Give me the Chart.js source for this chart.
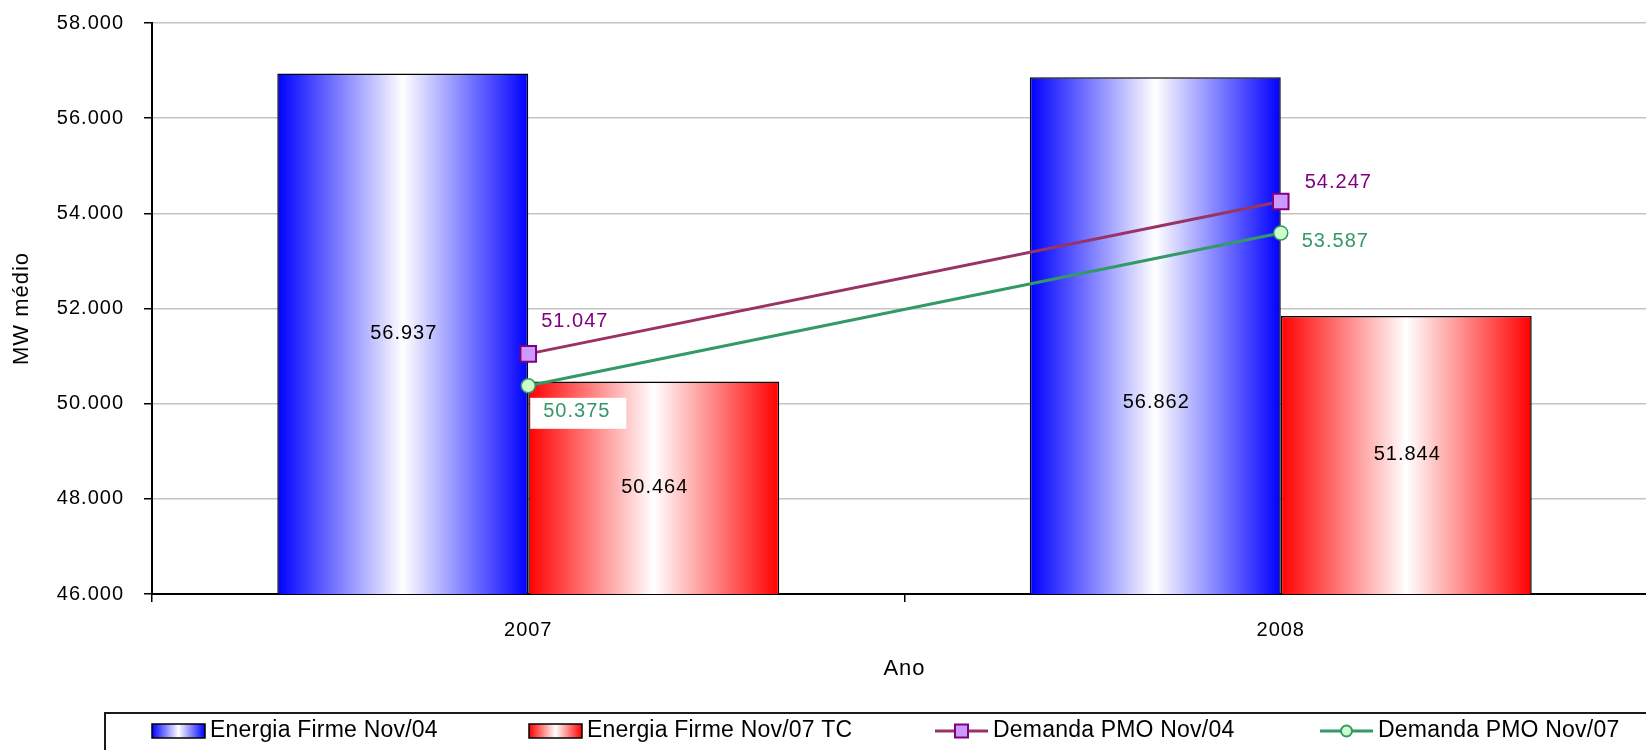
<!DOCTYPE html>
<html>
<head>
<meta charset="utf-8">
<script src="https://cdn.jsdelivr.net/npm/chart.js@4.4.1/dist/chart.umd.min.js"></script>
<style>
  html, body { margin: 0; padding: 0; background: #ffffff; overflow: hidden; }
  #wrap { width: 1646px; height: 750px; position: relative; overflow: hidden; }
  #chart { display: block; }
</style>
</head>
<body>
<div id="wrap"><canvas id="chart" width="1657" height="750"></canvas></div>
<script>
// ---- data ----
const years = ['2007', '2008'];
const energiaFirmeNov04 = [56937, 56862];
const energiaFirmeNov07TC = [50464, 51844];
const demandaPmoNov04 = [51047, 54247];
const demandaPmoNov07 = [50375, 53587];
const yMin = 46000;
const yMax = 58000;
const yStep = 2000;

const seriesNames = ['Energia Firme Nov/04', 'Energia Firme Nov/07 TC', 'Demanda PMO Nov/04', 'Demanda PMO Nov/07'];

// ---- styling ----
const FONT = "'Liberation Sans', Arial, sans-serif";
const SPACING = '1px';
const CAT_PCT = 0.667;
const barEdge = ['#0000FF', '#FF0000'];
const lineColor = ['#993366', '#339966'];
const pointFill = ['#CC99FF', '#CCFFCC'];
const pointEdge = ['#800080', '#339966'];
const valueColor = ['#800080', '#339966'];
// where the value sits inside each bar (fraction of the bar height from its top)
const barLabelAnchor = [[0.5, 0.63], [0.5, 0.5]];
// value label offsets from each line point [dx, dy]
const lineLabelOffset = [[[13, -32], [24, -19]], [[15, 26], [21, 8]]];
const lineLabelBoxed = [[false, false], [true, false]];

const fmt = v => String(Math.round(v)).replace(/\B(?=(\d{3})+(?!\d))/g, '.');

function barFill(ctx, slot) {
  const edge = barEdge[slot];
  const chart = ctx.chart;
  const xs = chart.scales && chart.scales.x;
  if (ctx.type !== 'data' || !xs || !xs.width) return edge;
  const catW = xs.width / years.length;
  const groupW = catW * CAT_PCT;
  const barW = groupW / 2;
  const left = xs.getPixelForValue(ctx.dataIndex) - groupW / 2 + slot * barW;
  const g = chart.ctx.createLinearGradient(left, 0, left + barW, 0);
  g.addColorStop(0, edge);
  g.addColorStop(0.5, '#FFFFFF');
  g.addColorStop(1, edge);
  return g;
}

const spacingPlugin = {
  id: 'spacing',
  beforeUpdate(chart) { chart.ctx.letterSpacing = SPACING; },
  beforeDraw(chart) { chart.ctx.letterSpacing = SPACING; }
};

const valueLabels = {
  id: 'valueLabels',
  afterDatasetsDraw(chart) {
    const ctx = chart.ctx;
    const ys = chart.scales.y;
    ctx.save();
    ctx.letterSpacing = SPACING;
    ctx.font = '20px ' + FONT;
    ctx.textBaseline = 'middle';
    // bar values
    [0, 1].forEach(di => {
      const meta = chart.getDatasetMeta(di);
      const vals = chart.data.datasets[di].data;
      meta.data.forEach((el, i) => {
        const top = ys.getPixelForValue(vals[i]);
        const base = ys.getPixelForValue(yMin);
        const y = top + (base - top) * barLabelAnchor[di][i];
        ctx.fillStyle = '#000000';
        ctx.textAlign = 'center';
        ctx.fillText(fmt(vals[i]), el.x + 1, y);
      });
    });
    // line values
    [2, 3].forEach((di, k) => {
      const meta = chart.getDatasetMeta(di);
      const vals = chart.data.datasets[di].data;
      meta.data.forEach((el, i) => {
        const py = ys.getPixelForValue(vals[i]);
        const [dx, dy] = lineLabelOffset[k][i];
        if (lineLabelBoxed[k][i]) {
          ctx.fillStyle = '#FFFFFF';
          ctx.fillRect(el.x + 2, py + dy - 14, 96, 31);
        }
        ctx.fillStyle = valueColor[k];
        ctx.textAlign = 'left';
        ctx.fillText(fmt(vals[i]), el.x + dx, py + dy);
      });
    });
    ctx.restore();
  }
};

const boxedLegend = {
  id: 'boxedLegend',
  afterDraw(chart) {
    const ctx = chart.ctx;
    const cy = 731;
    const items = [
      { x: 152, kind: 'bar', slot: 0 },
      { x: 529, kind: 'bar', slot: 1 },
      { x: 935, kind: 'line', slot: 0 },
      { x: 1320, kind: 'line', slot: 1 }
    ];
    ctx.save();
    ctx.strokeStyle = '#1a1a1a';
    ctx.lineWidth = 2;
    ctx.strokeRect(105, 713, 1700, 100);
    items.forEach((it, idx) => {
      const w = 53;
      if (it.kind === 'bar') {
        const g = ctx.createLinearGradient(it.x, 0, it.x + w, 0);
        g.addColorStop(0, barEdge[it.slot]);
        g.addColorStop(0.5, '#FFFFFF');
        g.addColorStop(1, barEdge[it.slot]);
        ctx.fillStyle = g;
        ctx.fillRect(it.x, cy - 7, w, 14);
        ctx.strokeStyle = '#000000';
        ctx.lineWidth = 1.5;
        ctx.strokeRect(it.x, cy - 7, w, 14);
      } else {
        ctx.strokeStyle = lineColor[it.slot];
        ctx.lineWidth = 3;
        ctx.beginPath();
        ctx.moveTo(it.x, cy);
        ctx.lineTo(it.x + w, cy);
        ctx.stroke();
        ctx.fillStyle = pointFill[it.slot];
        ctx.strokeStyle = pointEdge[it.slot];
        ctx.lineWidth = 2;
        const mx = it.x + w / 2;
        if (it.slot === 0) {
          ctx.fillRect(mx - 6.5, cy - 6.5, 13, 13);
          ctx.strokeRect(mx - 6.5, cy - 6.5, 13, 13);
        } else {
          ctx.beginPath();
          ctx.arc(mx, cy, 5.5, 0, Math.PI * 2);
          ctx.fill();
          ctx.stroke();
        }
      }
      ctx.fillStyle = '#000000';
      ctx.font = '23px ' + FONT;
      ctx.letterSpacing = '0.2px';
      ctx.textAlign = 'left';
      ctx.textBaseline = 'middle';
      ctx.fillText(chart.data.datasets[idx].label, it.x + w + 5, cy);
    });
    ctx.restore();
  }
};

new Chart(document.getElementById('chart'), {
  type: 'bar',
  data: {
    labels: years,
    datasets: [
      {
        type: 'bar', label: seriesNames[0], data: energiaFirmeNov04,
        backgroundColor: c => barFill(c, 0), borderColor: '#000000', borderWidth: 1.5, order: 2
      },
      {
        type: 'bar', label: seriesNames[1], data: energiaFirmeNov07TC,
        backgroundColor: c => barFill(c, 1), borderColor: '#000000', borderWidth: 1.5, order: 2
      },
      {
        type: 'line', label: seriesNames[2], data: demandaPmoNov04,
        borderColor: lineColor[0], borderWidth: 3, tension: 0, fill: false,
        pointStyle: 'rect', pointRadius: 11, pointBackgroundColor: pointFill[0],
        pointBorderColor: pointEdge[0], pointBorderWidth: 2, order: 1
      },
      {
        type: 'line', label: seriesNames[3], data: demandaPmoNov07,
        borderColor: lineColor[1], borderWidth: 3, tension: 0, fill: false,
        pointStyle: 'circle', pointRadius: 7, pointBackgroundColor: pointFill[1],
        pointBorderColor: pointEdge[1], pointBorderWidth: 1.5, order: 0
      }
    ]
  },
  options: {
    responsive: false,
    animation: false,
    events: [],
    layout: { autoPadding: false, padding: { top: 23, right: 0, bottom: 56, left: 0 } },
    datasets: { bar: { categoryPercentage: CAT_PCT, barPercentage: 1 } },
    plugins: { legend: { display: false }, tooltip: { enabled: false } },
    scales: {
      x: {
        offset: true,
        afterFit(scale) { scale.height = 100; scale.paddingLeft = 0; scale.paddingRight = 0; },
        grid: { display: true, drawOnChartArea: false, drawTicks: true, tickLength: 8, color: '#000000', lineWidth: 1.5, offset: true },
        border: { display: true, color: '#000000', width: 2 },
        ticks: { color: '#000000', font: { family: FONT, size: 20 }, padding: 16, maxRotation: 0 },
        title: { display: true, text: 'Ano', color: '#000000', font: { family: FONT, size: 22 }, padding: { top: 0, bottom: 12 } }
      },
      y: {
        min: yMin, max: yMax,
        afterFit(scale) { scale.width = 152; scale.paddingTop = 0; scale.paddingBottom = 0; },
        ticks: { stepSize: yStep, color: '#000000', font: { family: FONT, size: 20 }, padding: 20, callback: v => fmt(v) },
        grid: { color: '#C4C4C4', lineWidth: 1.5, drawTicks: true, tickLength: 8, tickColor: '#000000' },
        border: { display: true, color: '#000000', width: 2 },
        title: { display: true, text: 'MW médio', color: '#000000', font: { family: FONT, size: 22 }, padding: { top: 9, bottom: 0 } }
      }
    }
  },
  plugins: [spacingPlugin, valueLabels, boxedLegend]
});
</script>
</body>
</html>
